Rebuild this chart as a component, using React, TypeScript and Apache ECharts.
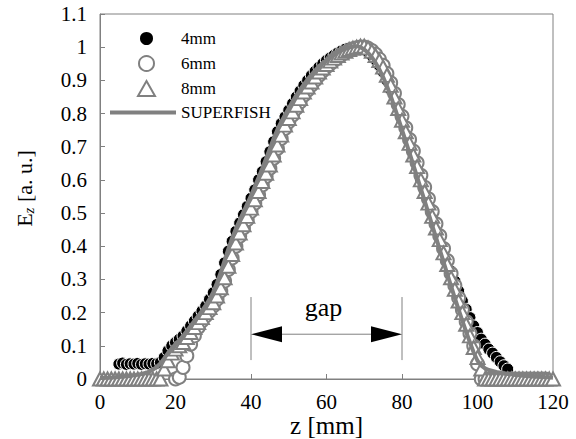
import React, { useEffect, useRef } from "react";
import * as echarts from "echarts";

// z positions are start + index (1 mm steps)
const Z_START_4MM = 5;
const ez4mm = [
  0.045, 0.048, 0.044, 0.046, 0.045, 0.047, 0.044, 0.046, 0.045, 0.047, 0.046, 0.05,
  0.065, 0.085, 0.1, 0.11, 0.12, 0.13, 0.145, 0.16, 0.175, 0.19, 0.205, 0.22, 0.24, 0.26,
  0.285, 0.315, 0.35, 0.385, 0.415, 0.445, 0.47, 0.495, 0.52, 0.545, 0.57, 0.6, 0.625,
  0.655, 0.685, 0.715, 0.745, 0.77, 0.79, 0.81, 0.83, 0.85, 0.868, 0.885, 0.9, 0.915,
  0.928, 0.94, 0.95, 0.96, 0.968, 0.976, 0.983, 0.989, 0.994, 0.997, 0.999, 1.0, 0.998,
  0.993, 0.985, 0.975, 0.962, 0.945, 0.925, 0.9, 0.872, 0.84, 0.807, 0.773, 0.74, 0.705,
  0.67, 0.635, 0.6, 0.565, 0.53, 0.495, 0.46, 0.425, 0.39, 0.355, 0.325, 0.295, 0.265,
  0.235, 0.21, 0.185, 0.16, 0.14, 0.12, 0.105, 0.09, 0.078, 0.065, 0.052, 0.04, 0.03,
];

const Z_START_6MM = 20;
const ez6mm = [
  0.0, 0.005, 0.035, 0.07, 0.105, 0.13, 0.155, 0.175, 0.19, 0.205, 0.22, 0.24, 0.265,
  0.295, 0.33, 0.365, 0.4, 0.43, 0.455, 0.48, 0.505, 0.53, 0.555, 0.585, 0.61, 0.635,
  0.665, 0.695, 0.725, 0.755, 0.775, 0.795, 0.815, 0.835, 0.855, 0.87, 0.885, 0.9, 0.915,
  0.928, 0.94, 0.95, 0.96, 0.969, 0.977, 0.984, 0.99, 0.995, 0.998, 1.0, 1.0, 0.997, 0.99,
  0.979, 0.964, 0.945, 0.921, 0.893, 0.861, 0.827, 0.792, 0.757, 0.722, 0.687, 0.652,
  0.614, 0.578, 0.543, 0.505, 0.468, 0.432, 0.393, 0.357, 0.318, 0.282, 0.245, 0.209,
  0.173, 0.137, 0.1, 0.045, 0.0, 0.0, 0.0, 0.0, 0.0, 0.0, 0.0, 0.0, 0.0, 0.0, 0.0, 0.0,
  0.0, 0.0, 0.0, 0.0, 0.0, 0.0,
];

const Z_START_8MM = 0;
const ez8mm = [
  0, 0, 0, 0, 0, 0, 0, 0, 0, 0, 0, 0, 0, 0, 0, 0, 0,
  0.03, 0.055, 0.078, 0.09, 0.1, 0.11, 0.125, 0.14, 0.155, 0.17, 0.185, 0.2, 0.215, 0.23,
  0.25, 0.275, 0.305, 0.34, 0.375, 0.41, 0.44, 0.465, 0.49, 0.515, 0.54, 0.565, 0.595,
  0.62, 0.645, 0.675, 0.705, 0.735, 0.765, 0.785, 0.805, 0.825, 0.845, 0.865, 0.88, 0.895,
  0.91, 0.925, 0.937, 0.948, 0.958, 0.967, 0.975, 0.982, 0.988, 0.993, 0.997, 1.0, 1.003,
  1.003, 0.998, 0.988, 0.975, 0.96, 0.94, 0.915, 0.885, 0.85, 0.815, 0.78, 0.745, 0.71,
  0.675, 0.64, 0.6, 0.565, 0.53, 0.49, 0.455, 0.42, 0.38, 0.345, 0.305, 0.27, 0.235, 0.2,
  0.165, 0.13, 0.095, 0.065, 0.03,
  0, 0, 0, 0, 0, 0, 0, 0, 0, 0, 0, 0, 0, 0, 0, 0, 0, 0, 0,
];

const Z_START_SF = 0;
const ezSuperfish = [
  0.003, 0.003, 0.004, 0.004, 0.005, 0.006, 0.007, 0.008, 0.009, 0.011, 0.013, 0.015,
  0.018, 0.022, 0.028, 0.036, 0.047, 0.062, 0.078, 0.092, 0.105, 0.117, 0.13, 0.145, 0.16,
  0.175, 0.19, 0.205, 0.222, 0.24, 0.262, 0.29, 0.322, 0.357, 0.392, 0.425, 0.453, 0.478,
  0.503, 0.528, 0.553, 0.58, 0.607, 0.635, 0.665, 0.695, 0.725, 0.752, 0.775, 0.796, 0.816,
  0.836, 0.855, 0.872, 0.888, 0.903, 0.917, 0.93, 0.942, 0.952, 0.961, 0.969, 0.977, 0.984,
  0.99, 0.995, 0.999, 1.002, 1.003, 1.0, 0.993, 0.983, 0.97, 0.953, 0.933, 0.91, 0.883,
  0.853, 0.82, 0.786, 0.751, 0.716, 0.681, 0.645, 0.609, 0.573, 0.537, 0.5, 0.463, 0.427,
  0.39, 0.353, 0.316, 0.28, 0.244, 0.209, 0.175, 0.142, 0.11, 0.08, 0.055, 0.04, 0.032,
  0.027, 0.024, 0.021, 0.019, 0.017, 0.015, 0.014, 0.012, 0.011, 0.01, 0.009, 0.008, 0.007,
  0.007, 0.006, 0.005, 0.005, 0.004,
];

const markerSeriesNames = ["4mm", "6mm", "8mm"];
const lineSeriesName = "SUPERFISH";

// gap annotation (data coordinates)
const gapFrom = 40;
const gapTo = 80;
const gapArrowY = 0.135;
const gapLineLow = 0.057;
const gapLineHigh = 0.247;
const gapLabelY = 0.215;
const gapLabel = "gap";

const FONT = "'Liberation Serif', 'Times New Roman', serif";
const GRAY = "#808080";

const toPairs = (start: number, vals: number[]) => vals.map((v, i) => [start + i, v]);

export default function App() {
  const ref = useRef<HTMLDivElement>(null);
  useEffect(() => {
    if (!ref.current) return;
    const chart = echarts.init(ref.current, null, { renderer: "svg" });
    const legendText = {
      fontFamily: FONT,
      fontSize: 17,
      color: "#000",
      rich: { p: { width: 21 } },
    };
    const option: any = {
      animation: false,
      textStyle: { fontFamily: FONT },
      grid: {
        left: 100,
        right: 23,
        top: 14,
        bottom: 60,
        show: true,
        borderColor: GRAY,
        borderWidth: 1,
        backgroundColor: "transparent",
        containLabel: false,
        outerBoundsMode: "none",
      },
      legend: [
        {
          orient: "vertical",
          left: 132,
          top: 25,
          itemWidth: 17,
          itemHeight: 15,
          itemGap: 8,
          textStyle: legendText,
          formatter: (name: string) => `{p|}${name}`,
          data: markerSeriesNames,
        },
        {
          orient: "vertical",
          left: 105,
          top: 99,
          itemWidth: 66,
          itemHeight: 4,
          textStyle: { fontFamily: FONT, fontSize: 17, color: "#000" },
          data: [{ name: lineSeriesName, icon: "rect" }],
        },
      ],
      xAxis: {
        type: "value",
        min: 0,
        max: 120,
        interval: 20,
        name: "z [mm]",
        nameLocation: "middle",
        nameGap: 34,
        nameMoveOverlap: false,
        nameTextStyle: { fontFamily: FONT, fontSize: 25, color: "#000" },
        axisLine: { lineStyle: { color: GRAY, width: 1 } },
        axisTick: { inside: true, length: 5, lineStyle: { color: GRAY } },
        axisLabel: { fontFamily: FONT, fontSize: 21, color: "#000", margin: 12 },
        splitLine: { show: false },
      },
      yAxis: {
        type: "value",
        min: 0,
        max: 1.1,
        interval: 0.1,
        name: "{a|E}{b|z}{a| [a. u.]}",
        nameLocation: "middle",
        nameRotate: 90,
        nameGap: 64,
        nameMoveOverlap: false,
        nameTextStyle: {
          padding: [0, 0, 0, 16],
          rich: {
            a: { fontFamily: FONT, fontSize: 22, color: "#000" },
            b: {
              fontFamily: FONT,
              fontSize: 15,
              fontStyle: "italic",
              color: "#000",
              verticalAlign: "bottom",
              padding: [8, 0, 0, 0],
            },
          },
        },
        axisLine: { show: true, lineStyle: { color: GRAY, width: 1 } },
        axisTick: { show: true, inside: true, length: 5, lineStyle: { color: GRAY } },
        axisLabel: {
          fontFamily: FONT,
          fontSize: 21,
          color: "#000",
          margin: 13,
          formatter: (v: number) => String(Math.round(v * 10) / 10),
        },
        splitLine: { show: false },
      },
      series: [
        {
          name: "4mm",
          type: "scatter",
          symbol: "circle",
          symbolSize: 12,
          itemStyle: { color: "#000", borderColor: "#fff", borderWidth: 1, opacity: 1 },
          data: toPairs(Z_START_4MM, ez4mm),
        },
        {
          name: "6mm",
          type: "scatter",
          symbol: "circle",
          symbolSize: 13,
          itemStyle: { color: "#fff", borderColor: GRAY, borderWidth: 2, opacity: 1 },
          data: toPairs(Z_START_6MM, ez6mm),
        },
        {
          name: "8mm",
          type: "scatter",
          symbol: "triangle",
          symbolSize: [14, 13],
          itemStyle: { color: "#fff", borderColor: GRAY, borderWidth: 2, opacity: 1 },
          data: toPairs(Z_START_8MM, ez8mm),
        },
        {
          name: lineSeriesName,
          type: "line",
          symbol: "none",
          showSymbol: false,
          smooth: false,
          lineStyle: { color: GRAY, width: 4 },
          itemStyle: { color: GRAY },
          data: toPairs(Z_START_SF, ezSuperfish),
        },
      ],
    };
    chart.setOption(option);

    const p = (x: number, y: number) => chart.convertToPixel({ gridIndex: 0 }, [x, y]) as number[];
    const a = p(gapFrom, gapArrowY);
    const b = p(gapTo, gapArrowY);
    const l1 = p(gapFrom, gapLineLow);
    const h1 = p(gapFrom, gapLineHigh);
    const l2 = p(gapTo, gapLineLow);
    const h2 = p(gapTo, gapLineHigh);
    const t = p((gapFrom + gapTo) / 2, gapLabelY);
    const headL = 31;
    const headH = 8;
    chart.setOption({
      graphic: [
        { type: "line", shape: { x1: l1[0], y1: l1[1], x2: h1[0], y2: h1[1] }, style: { stroke: GRAY, lineWidth: 1 }, z: 10 },
        { type: "line", shape: { x1: l2[0], y1: l2[1], x2: h2[0], y2: h2[1] }, style: { stroke: GRAY, lineWidth: 1 }, z: 10 },
        { type: "line", shape: { x1: a[0] + headL, y1: a[1], x2: b[0] - headL, y2: b[1] }, style: { stroke: GRAY, lineWidth: 1 }, z: 10 },
        {
          type: "polygon",
          shape: { points: [[a[0], a[1]], [a[0] + headL, a[1] - headH], [a[0] + headL, a[1] + headH]] },
          style: { fill: "#000" },
          z: 10,
        },
        {
          type: "polygon",
          shape: { points: [[b[0], b[1]], [b[0] - headL, b[1] - headH], [b[0] - headL, b[1] + headH]] },
          style: { fill: "#000" },
          z: 10,
        },
        {
          type: "text",
          x: t[0] - 3,
          y: t[1],
          style: { text: gapLabel, font: `26px ${FONT}`, fill: "#000", align: "center", verticalAlign: "middle" },
          z: 10,
        },
      ],
    });
    return () => chart.dispose();
  }, []);
  return <div ref={ref} style={{ width: 576, height: 439, position: "absolute", left: 0, top: 0 }} />;
}
